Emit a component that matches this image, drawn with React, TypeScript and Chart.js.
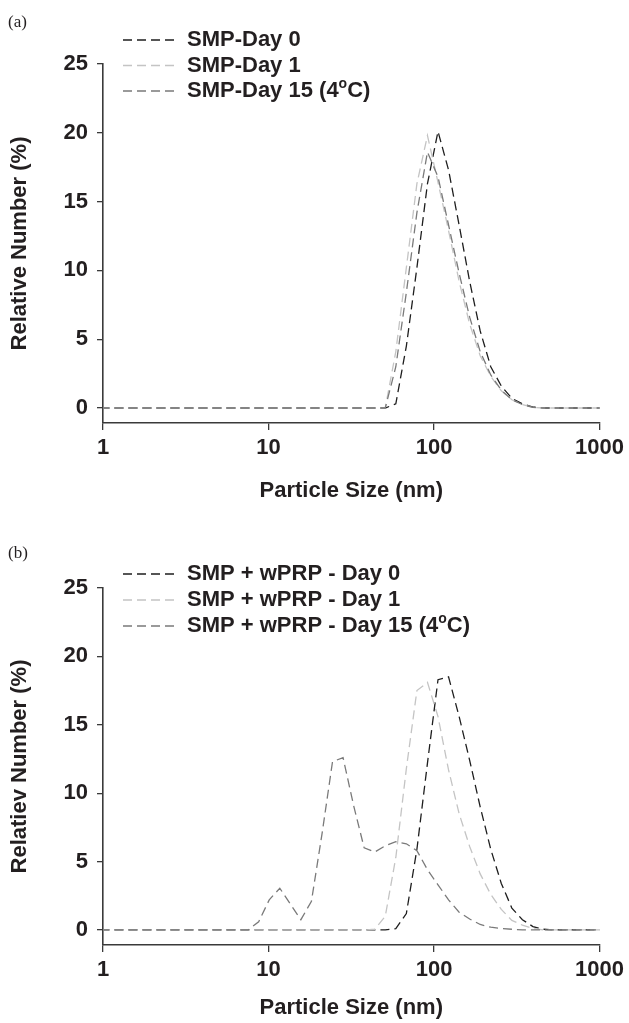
import React, { useEffect, useRef } from 'react';
import { Chart, registerables } from 'chart.js';

Chart.register(...registerables);

// Particle size bins (nm), log spaced
const sizes = [0.9649, 1.117, 1.294, 1.499, 1.736, 2.01, 2.328, 2.696, 3.122, 3.615, 4.187, 4.849, 5.615, 6.503, 7.531, 8.721, 10.1, 11.7, 13.54, 15.69, 18.17, 21.04, 24.36, 28.21, 32.67, 37.84, 43.82, 50.75, 58.77, 68.06, 78.82, 91.28, 105.7, 122.4, 141.8, 164.2, 190.1, 220.2, 255.0, 295.3, 342.0, 396.1, 458.7, 531.2, 615.1, 712.4, 825.0, 955.4, 1106];

const xTicks = [1, 10, 100, 1000];
const yTicks = [0, 5, 10, 15, 20, 25];

// Panel (a)
const labelsA = ['SMP-Day 0', 'SMP-Day 1', 'SMP-Day 15 (4°C)'];
const smpDay0 = [0, 0, 0, 0, 0, 0, 0, 0, 0, 0, 0, 0, 0, 0, 0, 0, 0, 0, 0, 0, 0, 0, 0, 0, 0, 0, 0, 0,
  0.3, 4.5, 10.2, 16.3, 20.1, 17.3, 13.3, 9.2, 5.6, 3.0, 1.6, 0.7, 0.3, 0.07, 0, 0, 0, 0, 0, 0, 0];
const smpDay1 = [0, 0, 0, 0, 0, 0, 0, 0, 0, 0, 0, 0, 0, 0, 0, 0, 0, 0, 0, 0, 0, 0, 0, 0, 0, 0, 0, 0,
  4.1, 10.2, 16.3, 19.8, 16.4, 12.9, 9.2, 6.1, 3.8, 2.3, 1.25, 0.6, 0.25, 0.05, 0, 0, 0, 0, 0, 0, 0];
const smpDay15 = [0, 0, 0, 0, 0, 0, 0, 0, 0, 0, 0, 0, 0, 0, 0, 0, 0, 0, 0, 0, 0, 0, 0, 0, 0, 0, 0, 0,
  3.0, 8.4, 14.2, 18.6, 16.8, 13.3, 9.8, 6.6, 4.1, 2.4, 1.3, 0.6, 0.25, 0.05, 0, 0, 0, 0, 0, 0, 0];

// Panel (b)
const labelsB = ['SMP + wPRP - Day 0', 'SMP + wPRP - Day 1', 'SMP + wPRP - Day 15 (4°C)'];
const wprpDay0 = [0, 0, 0, 0, 0, 0, 0, 0, 0, 0, 0, 0, 0, 0, 0, 0, 0, 0, 0, 0, 0, 0, 0, 0, 0, 0, 0, 0,
  0.1, 1.2, 5.9, 12.2, 18.3, 18.5, 15.6, 12.4, 9.0, 5.9, 3.4, 1.6, 0.75, 0.25, 0.05, 0, 0, 0, 0, 0, 0];
const wprpDay1 = [0, 0, 0, 0, 0, 0, 0, 0, 0, 0, 0, 0, 0, 0, 0, 0, 0, 0, 0, 0, 0, 0, 0, 0, 0, 0,
  0.05, 1.0, 5.3, 11.8, 17.5, 18.1, 15.6, 11.7, 8.5, 6.1, 4.1, 2.6, 1.5, 0.7, 0.35, 0.1, 0, 0, 0, 0, 0, 0, 0];
const wprpDay15 = [0, 0, 0, 0, 0, 0, 0, 0, 0, 0, 0, 0, 0, 0, 0,
  0.6, 2.2, 3.05, 1.9, 0.75, 2.1, 7.0, 12.3, 12.6, 9.1, 6.0, 5.7, 6.15, 6.45, 6.3, 5.8, 4.4, 3.3, 2.2, 1.3, 0.8, 0.4, 0.2, 0.1, 0.05,
  0, 0, 0, 0, 0, 0, 0, 0, 0];

const lineColors = ['#1e1e1e', '#c4c4c4', '#7a7a7a'];
const DASH = [9, 5];
const FONT_FAMILY = '"Liberation Sans", Arial, Helvetica, sans-serif';
const TEXT_COLOR = '#231f20';
const FONT_SIZE = 22;

type PanelProps = {
  top: number;
  height: number;
  labels: string[];
  series: number[][];
  yTitle: string;
  yMin: number;
  padTop: number;
  xScaleHeight: number;
  xTitlePad: number;
  legendRows: number[];
};

function Panel(p: PanelProps) {
  const ref = useRef<HTMLCanvasElement | null>(null);
  useEffect(() => {
    if (!ref.current) return;
    const font = { family: FONT_FAMILY, size: FONT_SIZE, weight: 'bold' as const };
    const legendPlugin = {
      id: 'customLegend',
      afterDraw(chart: any) {
        const ctx = chart.ctx;
        ctx.save();
        chart.data.datasets.forEach((ds: any, i: number) => {
          const y = p.legendRows[i];
          ctx.strokeStyle = ds.borderColor;
          ctx.lineWidth = ds.borderWidth;
          ctx.setLineDash(DASH);
          ctx.beginPath();
          ctx.moveTo(123, y);
          ctx.lineTo(176, y);
          ctx.stroke();
          ctx.setLineDash([]);
          ctx.fillStyle = TEXT_COLOR;
          ctx.textBaseline = 'middle';
          ctx.textAlign = 'left';
          const parts = String(ds.label).split('°');
          let x = 187;
          ctx.font = `bold ${FONT_SIZE}px ${FONT_FAMILY}`;
          ctx.fillText(parts[0], x, y);
          x += ctx.measureText(parts[0]).width;
          if (parts.length > 1) {
            ctx.font = `bold 14px ${FONT_FAMILY}`;
            ctx.fillText('o', x, y - 7);
            x += ctx.measureText('o').width;
            ctx.font = `bold ${FONT_SIZE}px ${FONT_FAMILY}`;
            ctx.fillText(parts[1], x, y);
          }
        });
        ctx.restore();
      },
    };
    const orders = [2, 1, 0];
    const chart = new Chart(ref.current, {
      type: 'line',
      data: {
        datasets: p.series.map((vals, i) => ({
          label: p.labels[i],
          data: sizes.map((s, j) => ({ x: s, y: vals[j] })),
          borderColor: lineColors[i],
          borderWidth: 1.3,
          borderDash: DASH,
          pointRadius: 0,
          tension: 0,
          fill: false,
          order: orders[i],
        })),
      },
      options: {
        animation: false,
        responsive: false,
        devicePixelRatio: 1,
        layout: { padding: { top: p.padTop, right: 26, bottom: 0, left: 0 } },
        plugins: { legend: { display: false }, tooltip: { enabled: false } },
        scales: {
          x: {
            type: 'logarithmic',
            min: 1,
            max: 1000,
            afterFit: (s: any) => { s.height = p.xScaleHeight; },
            afterBuildTicks: (s: any) => { s.ticks = xTicks.map((v) => ({ value: v })); },
            ticks: {
              autoSkip: false,
              maxRotation: 0,
              padding: 5,
              color: TEXT_COLOR,
              font,
              callback: (v: any) => String(v),
            },
            grid: { display: true, drawOnChartArea: false, drawTicks: true, tickLength: 7, color: '#3a3a3a', lineWidth: 1.3 },
            border: { display: true, color: '#3a3a3a', width: 1.6 },
            title: { display: true, text: 'Particle Size (nm)', color: TEXT_COLOR, font, padding: { top: 0, bottom: p.xTitlePad } },
          },
          y: {
            type: 'linear',
            min: p.yMin,
            max: 25,
            afterFit: (s: any) => { s.width = 103; },
            afterBuildTicks: (s: any) => { s.ticks = yTicks.map((v) => ({ value: v })); },
            ticks: { padding: 9, color: TEXT_COLOR, font },
            grid: { display: true, drawOnChartArea: false, drawTicks: true, tickLength: 6, color: '#3a3a3a', lineWidth: 1.3 },
            border: { display: true, color: '#3a3a3a', width: 1.6 },
            title: { display: true, text: p.yTitle, color: TEXT_COLOR, font, padding: { top: 7, bottom: 0 } },
          },
        },
      },
      plugins: [legendPlugin],
    } as any);
    return () => chart.destroy();
  }, []);
  return (
    <canvas
      ref={ref}
      width={629}
      height={p.height}
      style={{ position: 'absolute', left: 0, top: p.top, width: 629, height: p.height }}
    />
  );
}

const panelLabelStyle: React.CSSProperties = {
  position: 'absolute',
  left: 8,
  fontFamily: '"Liberation Serif", "Times New Roman", serif',
  fontSize: 17,
  color: '#231f20',
  lineHeight: '20px',
};

export default function App() {
  return (
    <div style={{ position: 'absolute', left: 0, top: 0, width: 629, height: 1023, background: '#fff', overflow: 'hidden' }}>
      <Panel
        top={0}
        height={510}
        labels={labelsA}
        series={[smpDay0, smpDay1, smpDay15]}
        yTitle="Relative Number (%)"
        yMin={-1.09}
        padTop={64}
        xScaleHeight={87}
        xTitlePad={6}
        legendRows={[40, 65.5, 91]}
      />
      <Panel
        top={510}
        height={513}
        labels={labelsB}
        series={[wprpDay0, wprpDay1, wprpDay15]}
        yTitle="Relatiev Number (%)"
        yMin={-1.1}
        padTop={78}
        xScaleHeight={78}
        xTitlePad={2}
        legendRows={[64, 90, 116]}
      />
      <div style={{ ...panelLabelStyle, top: 12 }}>(a)</div>
      <div style={{ ...panelLabelStyle, top: 543 }}>(b)</div>
    </div>
  );
}
